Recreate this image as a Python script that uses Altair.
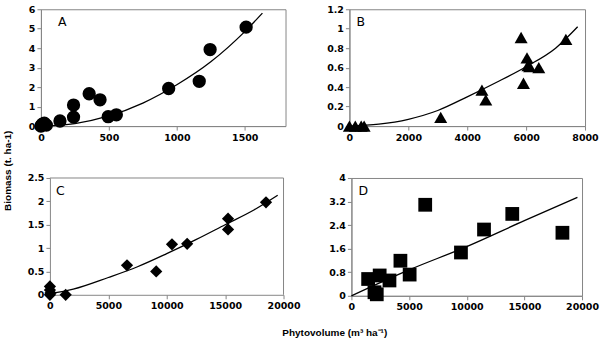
import altair as alt
import pandas as pd

# ---- Panel A (circles) ----
A_x = [0, 10, 25, 40, 140, 240, 240, 355, 435, 495, 555, 940, 1165, 1245, 1510]
A_y = [0, 0.1, 0.15, 0.05, 0.26, 0.46, 1.08, 1.66, 1.35, 0.48, 0.58, 1.93, 2.3, 3.93, 5.08]
A_fit_x = [0, 250, 500, 750, 1000, 1250, 1500, 1630]
A_fit_y = [0, 0.13, 0.52, 1.18, 2.12, 3.3, 4.85, 5.8]

# ---- Panel B (triangles) ----
B_x = [0, 200, 400, 500, 3100, 4500, 4630, 5830, 5910, 6030, 6060, 6120, 6430, 7350]
B_y = [0, 0, 0, 0, 0.09, 0.37, 0.27, 0.91, 0.44, 0.70, 0.62, 0.61, 0.60, 0.89]
B_fit_x = [0, 1000, 2000, 3000, 4000, 5000, 6000, 7000, 7750]
B_fit_y = [0, 0.02, 0.07, 0.16, 0.30, 0.45, 0.61, 0.80, 1.02]

# ---- Panel C (diamonds) ----
C_x = [0, 0, 50, 0, 1350, 6600, 9100, 10450, 11750, 15250, 15250, 18500]
C_y = [0.18, 0.1, 0.04, 0.0, 0.0, 0.63, 0.5, 1.08, 1.09, 1.63, 1.4, 1.98]
C_fit_x = [0, 2000, 5000, 7500, 10000, 12500, 15000, 17500, 19500]
C_fit_y = [0.02, 0.12, 0.37, 0.6, 0.88, 1.18, 1.5, 1.82, 2.13]

# ---- Panel D (squares) ----
D_x = [1450, 2000, 2200, 2450, 3300, 4250, 5050, 6400, 9500, 11500, 13950, 18300]
D_y = [0.57, 0.12, 0.05, 0.69, 0.52, 1.19, 0.72, 3.09, 1.47, 2.25, 2.78, 2.14]
D_fit_x = [0, 5000, 10000, 15000, 19600]
D_fit_y = [0, 0.88, 1.67, 2.55, 3.34]

A_xticks = [0, 500, 1000, 1500]
A_yticks = [0, 1, 2, 3, 4, 5, 6]
B_xticks = [0, 2000, 4000, 6000, 8000]
B_yticks = [0, 0.2, 0.4, 0.6, 0.8, 1, 1.2]
C_xticks = [0, 5000, 10000, 15000, 20000]
C_yticks = [0, 0.5, 1, 1.5, 2, 2.5]
D_xticks = [0, 5000, 10000, 15000, 20000]
D_yticks = [0, 0.8, 1.6, 2.4, 3.2, 4]

X_TITLE = "Phytovolume (m³ ha⁻¹)"
Y_TITLE = "Biomass (t. ha-1)"

LABEL_FONT = "DejaVu Sans"
FRAME = "#868686"


def panel(px, py, fx, fy, xdom, xt, ydom, yt, shape, size, letter, w, h,
          letter_dx, inset=0):
    pts = pd.DataFrame({"x": px, "y": py})
    fit = pd.DataFrame({"x": fx, "y": fy})
    xscale = alt.Scale(domain=xdom, nice=False, zero=False)
    if inset:
        xscale = alt.Scale(domain=xdom, nice=False, zero=False, range=[inset, w])
    xenc = alt.X("x:Q", scale=xscale,
                 axis=alt.Axis(values=xt, format="d", title=None, labelFlush=False,
                               labelFont=LABEL_FONT, labelFontWeight="bold"))
    yenc = alt.Y("y:Q", scale=alt.Scale(domain=ydom, nice=False, zero=False),
                 axis=alt.Axis(values=yt, format="~g", title=None, minExtent=0,
                               offset=-inset, labelFlush=False,
                               labelFont=LABEL_FONT, labelFontWeight="bold"))
    line = alt.Chart(fit).mark_line(color="black", strokeWidth=1.3,
                                    interpolate="monotone").encode(x=xenc, y=yenc)
    points = alt.Chart(pts).mark_point(shape=shape, filled=True, size=size,
                                       color="black", opacity=1).encode(x=xenc, y=yenc)
    lab = alt.Chart(pd.DataFrame({"t": [letter]})).mark_text(
        align="left", baseline="alphabetic", font="DejaVu Sans", fontSize=12.5,
        color="black").encode(x=alt.value(letter_dx), y=alt.value(17), text="t:N")
    layers = [line, points, lab]
    props = dict(width=w, height=h)
    if inset:
        one = pd.DataFrame({"k": [0]})
        top = alt.Chart(one).mark_rule(color=FRAME, strokeWidth=1).encode(
            x=alt.value(inset), x2=alt.value(w), y=alt.value(0))
        right = alt.Chart(one).mark_rule(color=FRAME, strokeWidth=1).encode(
            x=alt.value(w), y=alt.value(0), y2=alt.value(h))
        layers = [top, right] + layers
        props["view"] = alt.ViewBackground(stroke="transparent")
    return alt.layer(*layers).properties(**props)


pA = panel(A_x, A_y, A_fit_x, A_fit_y, [0, 1800], A_xticks, [0, 6], A_yticks,
           "circle", 177, "A", 245, 117, 17)
pB = panel(B_x, B_y, B_fit_x, B_fit_y, [0, 8000], B_xticks, [0, 1.2], B_yticks,
           "triangle-up", 170, "B", 236, 117, 7)
pC = panel(C_x, C_y, C_fit_x, C_fit_y, [0, 20000], C_xticks, [0, 2.5], C_yticks,
           "diamond", 150, "C", 243, 117, 15, inset=9)
pD = panel(D_x, D_y, D_fit_x, D_fit_y, [0, 20000], D_xticks, [0, 4], D_yticks,
           "square", 190, "D", 231, 118, 7)

row1 = alt.hconcat(pA, pB, spacing=39)
row2 = alt.hconcat(pC, pD, spacing=26)
inner = alt.concat(row1, row2, columns=1, align="none", spacing=30).properties(
    title=alt.TitleParams(X_TITLE, orient="bottom", anchor="middle",
                          font="Liberation Sans", fontSize=10, fontWeight="bold",
                          color="black", offset=16, dx=22)
)
chart = alt.hconcat(inner).properties(
    title=alt.TitleParams(Y_TITLE, orient="left", anchor="middle",
                          font="Liberation Sans", fontSize=10, fontWeight="bold",
                          color="black", offset=14)
).configure(
    padding={"left": 2, "top": 3, "right": 0, "bottom": 0}
).configure_view(
    stroke=FRAME, strokeWidth=1
).configure_axis(
    domainColor=FRAME, tickColor=FRAME, tickSize=4, grid=False, labelFlush=False,
    labelFont=LABEL_FONT, labelFontWeight="bold", labelFontSize=9.5,
    labelColor="black", labelPadding=2
).configure_axisY(minExtent=0)

chart.save("out.html", embed_options={"renderer": "svg", "actions": False})
